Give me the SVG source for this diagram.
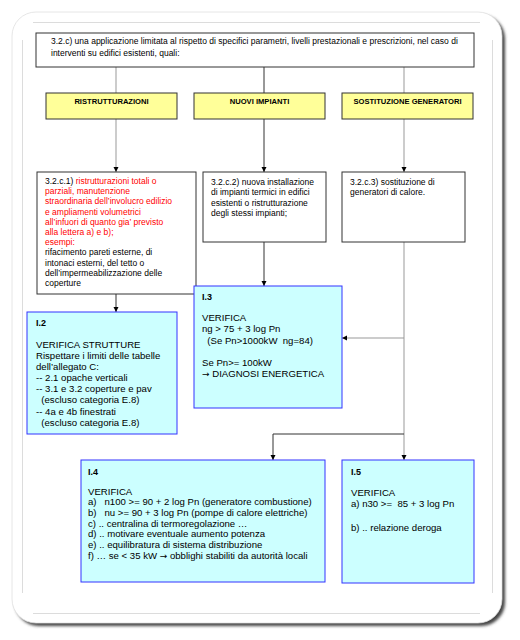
<svg xmlns="http://www.w3.org/2000/svg" width="520" height="640" viewBox="0 0 520 640">
<defs>
<style>
text{font-family:"Liberation Sans",Arial,sans-serif;fill:#000}
.t8{font-size:8.5px}
.t9{font-size:9.6px}
.hd{font-size:7.6px;font-weight:bold}
.id{font-size:9px;font-weight:bold}
.red{fill:#ff0000}
.arr{font-family:"DejaVu Sans",sans-serif;font-size:9px}
.wbox{fill:#fff;stroke:#333;stroke-width:1}
.ybox{fill:#ffff99;stroke:#333;stroke-width:1}
.cbox{fill:#ccffff;stroke:#3333ff;stroke-width:1}
.ln{fill:none;stroke:#333;stroke-width:1}
.lg{fill:none;stroke:#999;stroke-width:1}
.guide{stroke:#dcdcdc;stroke-width:1}
</style>
<marker id="ah" markerUnits="userSpaceOnUse" markerWidth="6" markerHeight="6" refX="5" refY="3" orient="auto">
<path d="M0,0.5 L5,3 L0,5.5 Z" fill="#000"/>
</marker>
<filter id="sh" x="-5%" y="-5%" width="110%" height="110%">
<feGaussianBlur stdDeviation="1.6"/>
</filter>
</defs>

<g id="frame">
<rect x="15" y="15" width="490" height="611" rx="24" fill="#444" filter="url(#sh)"/>
<rect x="12" y="12" width="490" height="611" rx="24" fill="#fff" stroke="#e0e0e0" stroke-width="0.8"/>
<line class="guide" x1="33" y1="22.5" x2="480" y2="22.5"/>
<line class="guide" x1="33" y1="613.5" x2="480" y2="613.5"/>
<line class="guide" x1="22.5" y1="40" x2="22.5" y2="593"/>
<line class="guide" x1="492.5" y1="40" x2="492.5" y2="593"/>
</g>

<g id="connectors">
<line class="lg" x1="116" y1="67" x2="116" y2="93"/>
<line class="ln" x1="264" y1="67" x2="264" y2="93"/>
<line class="lg" x1="404" y1="67" x2="404" y2="93"/>
<line class="lg" x1="116" y1="119" x2="116" y2="172" marker-end="url(#ah)"/>
<line class="ln" x1="264" y1="119" x2="264" y2="172" marker-end="url(#ah)"/>
<line class="lg" x1="404" y1="119" x2="404" y2="172" marker-end="url(#ah)"/>
<line class="ln" x1="116" y1="294" x2="116" y2="312" marker-end="url(#ah)"/>
<line class="ln" x1="264" y1="242" x2="264" y2="286" marker-end="url(#ah)"/>
<line class="lg" x1="404" y1="242" x2="404" y2="460" marker-end="url(#ah)"/>
<line class="lg" x1="404" y1="338" x2="342" y2="338" marker-end="url(#ah)"/>
<polyline class="ln" points="404,434 273,434 273,460" marker-end="url(#ah)"/>
</g>

<g id="n-top">
<rect class="wbox" x="36" y="33" width="438" height="34"/>
<text class="t8"><tspan x="51" y="44">3.2.c) una applicazione limitata al rispetto di specifici parametri, livelli prestazionali e prescrizioni, nel caso di</tspan><tspan x="51" y="56">interventi su edifici esistenti, quali:</tspan></text>
</g>

<g id="n-ristrutturazioni">
<rect class="ybox" x="46" y="93" width="131" height="26"/>
<text class="hd" x="111.5" y="104" text-anchor="middle">RISTRUTTURAZIONI</text>
</g>
<g id="n-nuovi-impianti">
<rect class="ybox" x="194" y="93" width="131" height="26"/>
<text class="hd" x="259.5" y="104" text-anchor="middle">NUOVI IMPIANTI</text>
</g>
<g id="n-sostituzione">
<rect class="ybox" x="342" y="93" width="131" height="26"/>
<text class="hd" x="407.5" y="104" text-anchor="middle">SOSTITUZIONE GENERATORI</text>
</g>

<g id="n-321">
<rect class="wbox" x="37" y="172" width="159" height="122"/>
<text class="t8">
<tspan x="45" y="184">3.2.c.1) <tspan class="red">ristrutturazioni totali o</tspan></tspan>
<tspan class="red" x="45" y="194.2">parziali, manutenzione</tspan>
<tspan class="red" x="45" y="204.4">straordinaria dell’involucro edilizio</tspan>
<tspan class="red" x="45" y="214.6">e ampliamenti volumetrici</tspan>
<tspan class="red" x="45" y="224.8">all’infuori di quanto gia’ previsto</tspan>
<tspan class="red" x="45" y="235">alla lettera a) e b);</tspan>
<tspan class="red" x="45" y="245.2">esempi:</tspan>
<tspan x="45" y="255.4">rifacimento pareti esterne, di</tspan>
<tspan x="45" y="265.6">intonaci esterni, del tetto o</tspan>
<tspan x="45" y="275.8">dell’impermeabilizzazione delle</tspan>
<tspan x="45" y="286">coperture</tspan>
</text>
</g>

<g id="n-322">
<rect class="wbox" x="203" y="172" width="123" height="70"/>
<text class="t8">
<tspan x="211" y="185">3.2.c.2) nuova installazione</tspan>
<tspan x="211" y="195.3">di impianti termici in edifici</tspan>
<tspan x="211" y="205.6">esistenti o ristrutturazione</tspan>
<tspan x="211" y="215.9">degli stessi impianti;</tspan>
</text>
</g>

<g id="n-323">
<rect class="wbox" x="342" y="172" width="123" height="70"/>
<text class="t8">
<tspan x="350" y="185">3.2.c.3) sostituzione di</tspan>
<tspan x="350" y="195.3">generatori di calore.</tspan>
</text>
</g>

<g id="n-I2">
<rect class="cbox" x="27" y="312" width="150" height="122"/>
<text class="id" x="36" y="326">I.2</text>
<text class="t9" xml:space="preserve">
<tspan x="36" y="347.5">VERIFICA STRUTTURE</tspan>
<tspan x="36" y="358.5">Rispettare i limiti delle tabelle</tspan>
<tspan x="36" y="369.5">dell’allegato C:</tspan>
<tspan x="36" y="380.8">-- 2.1 opache verticali</tspan>
<tspan x="36" y="392">-- 3.1 e 3.2 coperture e pav</tspan>
<tspan x="36" y="403">  (escluso categoria E.8)</tspan>
<tspan x="36" y="414.5">-- 4a e 4b finestrati</tspan>
<tspan x="36" y="425.5">  (escluso categoria E.8)</tspan>
</text>
</g>

<g id="n-I3">
<rect class="cbox" x="194" y="286" width="148" height="122"/>
<text class="id" x="202" y="299.5">I.3</text>
<text class="t9" xml:space="preserve">
<tspan x="202" y="320.5">VERIFICA</tspan>
<tspan x="202" y="332.2">ng &gt; 75 + 3 log Pn</tspan>
<tspan x="202" y="343.9">  (Se Pn&gt;1000kW  ng=84)</tspan>
<tspan x="202" y="365.5">Se Pn&gt;= 100kW</tspan>
<tspan x="202" y="377"><tspan class="arr">→</tspan> DIAGNOSI ENERGETICA</tspan>
</text>
</g>

<g id="n-I4">
<rect class="cbox" x="81" y="460" width="244" height="122"/>
<text class="id" x="88" y="474.5">I.4</text>
<text class="t9" xml:space="preserve">
<tspan x="88" y="494.5">VERIFICA</tspan>
<tspan x="88" y="505">a)   n100 &gt;= 90 + 2 log Pn (generatore combustione)</tspan>
<tspan x="88" y="515.8">b)   nu &gt;= 90 + 3 log Pn (pompe di calore elettriche)</tspan>
<tspan x="88" y="526.6">c) .. centralina di termoregolazione …</tspan>
<tspan x="88" y="537.4">d) .. motivare eventuale aumento potenza</tspan>
<tspan x="88" y="548.2">e) .. equilibratura di sistema distribuzione</tspan>
<tspan x="88" y="559">f) … se &lt; 35 kW <tspan class="arr">→</tspan> obblighi stabiliti da autorità locali</tspan>
</text>
</g>

<g id="n-I5">
<rect class="cbox" x="342" y="460" width="132" height="123"/>
<text class="id" x="351" y="474.5">I.5</text>
<text class="t9" xml:space="preserve">
<tspan x="351" y="495.5">VERIFICA</tspan>
<tspan x="351" y="506.5">a) n30 &gt;=  85 + 3 log Pn</tspan>
<tspan x="351" y="530.5">b) .. relazione deroga</tspan>
</text>
</g>
</svg>
